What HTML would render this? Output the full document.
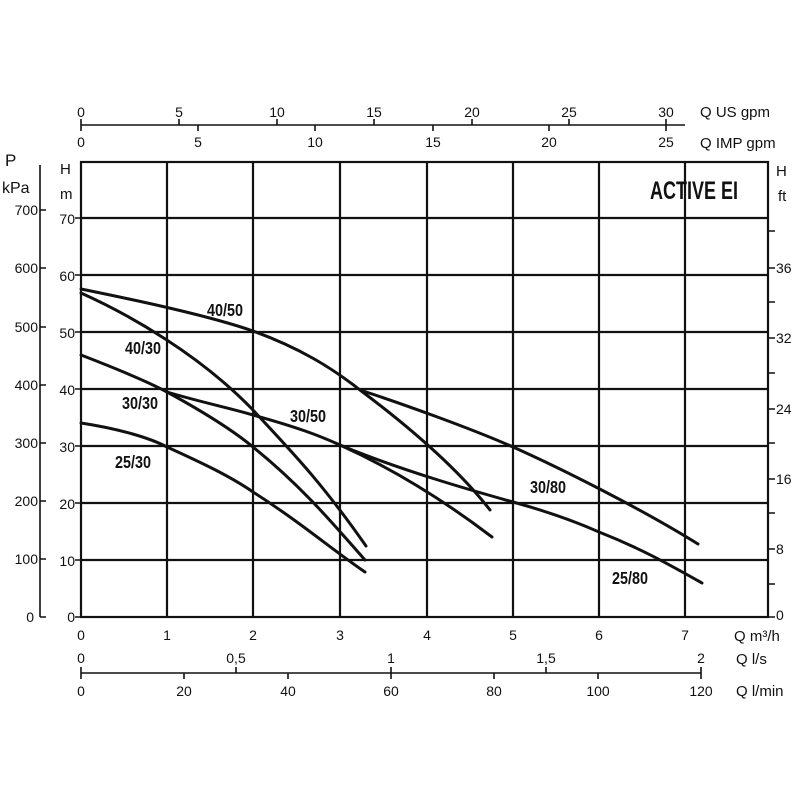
<!DOCTYPE html>
<html><head><meta charset="utf-8"><style>
body{margin:0;background:#fff}
svg text{font-family:"Liberation Sans",sans-serif;fill:#111}
.c{font-weight:bold;font-size:18px}
</style></head><body>
<svg width="800" height="800" viewBox="0 0 800 800" xmlns="http://www.w3.org/2000/svg">
<g stroke="#111" stroke-width="2.2" fill="none">
<rect x="81" y="162" width="687" height="455"/>
<path d="M167 162V617M253 162V617M340 162V617M427 162V617M513 162V617M599 162V617M685 162V617"/>
<path d="M81 218H768M81 275H768M81 332H768M81 389H768M81 446H768M81 503H768M81 560H768"/>
</g>
<g stroke="#111" stroke-width="1.6" fill="none">
<path d="M81 125H685M179 125v-6M277 125v-6M374 125v-6M472 125v-6M569 125v-6M666 125v-6M198 125v6M315 125v6M433 125v6M549 125v6M666 125v6M81 119v12"/>
<path d="M81 673H701M81 667v12M236 673v-6M391 673v-6M546 673v-6M701 673v-6M184 673v6M288 673v6M391 673v6M494 673v6M598 673v6M701 673v6"/>
<path d="M40 165V617M40 617h6M40 559h6M40 501h6M40 443h6M40 385h6M40 327h6M40 268h6M40 210h6"/>
<path d="M75 218h6M75 275h6M75 332h6M75 389h6M75 446h6M75 503h6M75 560h6M75 617h6"/>
<path d="M768 231h7M768 268h7M768 302h7M768 338h7M768 373h7M768 409h7M768 443h7M768 479h7M768 513h7M768 549h7M768 584h7M768 617h7"/>
</g>
<g stroke="#111" stroke-width="3" fill="none" stroke-linecap="round">
<path d="M81 289 C140 301,210 316,253 331 C300 348,332 368,360 390 C400 420,455 465,490 510"/>
<path d="M360 390 C400 403,470 428,513 447 C560 468,640 508,698 544"/>
<path d="M81 293 C130 315,200 355,253 410 C290 450,320 480,366 546"/>
<path d="M81 355 C120 370,150 383,167 392 C200 410,230 428,253 447 C300 485,330 520,365 560"/>
<path d="M167 392 C200 402,230 408,253 415 C300 428,320 436,340 445 C400 472,450 505,492 537"/>
<path d="M340 445 C400 470,470 490,513 502 C560 515,590 528,599 532 C640 548,670 565,702 583"/>
<path d="M81 423 C120 429,150 438,167 447 C200 462,230 476,253 492 C300 522,330 548,365 572"/>
</g>
<g class="c" text-anchor="middle">
<text x="225" y="316" transform="translate(225 0) scale(0.8 1) translate(-225 0)">40/50</text>
<text x="143" y="354" transform="translate(143 0) scale(0.8 1) translate(-143 0)">40/30</text>
<text x="140" y="409" transform="translate(140 0) scale(0.8 1) translate(-140 0)">30/30</text>
<text x="133" y="468" transform="translate(133 0) scale(0.8 1) translate(-133 0)">25/30</text>
<text x="308" y="422" transform="translate(308 0) scale(0.8 1) translate(-308 0)">30/50</text>
<text x="548" y="493" transform="translate(548 0) scale(0.8 1) translate(-548 0)">30/80</text>
<text x="630" y="584" transform="translate(630 0) scale(0.8 1) translate(-630 0)">25/80</text>
</g>
<text x="694" y="199" text-anchor="middle" font-weight="bold" font-size="25" transform="translate(694 0) scale(0.72 1) translate(-694 0)">ACTIVE EI</text>
<g font-size="14" text-anchor="middle">
<text x="81" y="117">0</text><text x="179" y="117">5</text><text x="277" y="117">10</text><text x="374" y="117">15</text><text x="472" y="117">20</text><text x="569" y="117">25</text><text x="666" y="117">30</text>
<text x="81" y="147">0</text><text x="198" y="147">5</text><text x="315" y="147">10</text><text x="433" y="147">15</text><text x="549" y="147">20</text><text x="666" y="147">25</text>
<text x="81" y="640">0</text><text x="167" y="640">1</text><text x="253" y="640">2</text><text x="340" y="640">3</text><text x="427" y="640">4</text><text x="513" y="640">5</text><text x="599" y="640">6</text><text x="685" y="640">7</text>
<text x="81" y="663">0</text><text x="236" y="663">0,5</text><text x="391" y="663">1</text><text x="546" y="663">1,5</text><text x="701" y="663">2</text>
<text x="81" y="696">0</text><text x="184" y="696">20</text><text x="288" y="696">40</text><text x="391" y="696">60</text><text x="494" y="696">80</text><text x="598" y="696">100</text><text x="701" y="696">120</text>
</g>
<g font-size="15">
<text x="700" y="117">Q US gpm</text>
<text x="700" y="148">Q IMP gpm</text>
<text x="734" y="641">Q m³/h</text>
<text x="736" y="664">Q l/s</text>
<text x="736" y="696">Q l/min</text>
<text x="5" y="166" font-size="17">P</text>
<text x="2" y="193" font-size="16">kPa</text>
<text x="60" y="174">H</text>
<text x="60" y="199">m</text>
<text x="776" y="176">H</text>
<text x="778" y="201">ft</text>
</g>
<g font-size="14" text-anchor="end">
<text x="38" y="215">700</text><text x="38" y="273">600</text><text x="38" y="332">500</text><text x="38" y="390">400</text><text x="38" y="448">300</text><text x="38" y="506">200</text><text x="38" y="564">100</text><text x="34" y="622">0</text>
<text x="75" y="224">70</text><text x="75" y="281">60</text><text x="75" y="338">50</text><text x="75" y="395">40</text><text x="75" y="452">30</text><text x="75" y="509">20</text><text x="75" y="566">10</text><text x="75" y="622">0</text>
</g>
<g font-size="14">
<text x="776" y="273">36</text><text x="776" y="343">32</text><text x="776" y="414">24</text><text x="776" y="484">16</text><text x="776" y="554">8</text><text x="776" y="620">0</text>
</g>
</svg>
</body></html>
